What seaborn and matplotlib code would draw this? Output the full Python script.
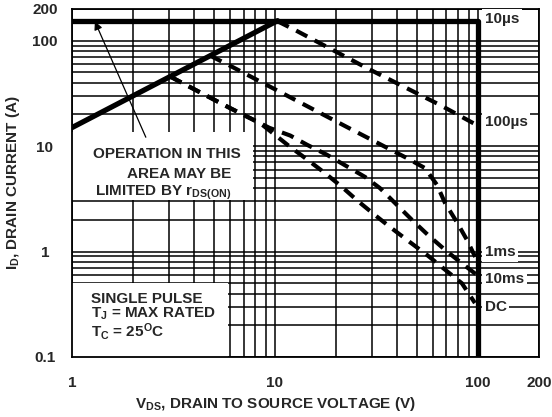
import numpy as np
import seaborn as sns
import matplotlib.pyplot as plt
import matplotlib.ticker as mticker
from matplotlib.patches import Rectangle

# rDS(on) limit and outer boundary (10us / max current / max voltage)
v_rds = [1, 10.3]
i_rds = [15, 155]
v_limit = [1, 100, 100]
i_limit = [155, 155, 0.1]

# pulse curves
v_100us = [10.3, 12.5, 28.4, 65, 94.5, 100]
i_100us = [153, 127, 55, 24.6, 16.6, 15.7]

v_1ms = [4.8, 5.9, 22.6, 44.7, 54.8, 62.8, 68.8, 78.8, 88.3, 97]
i_1ms = [72, 59, 15.2, 7.7, 6.2, 4.3, 2.9, 1.9, 1.29, 0.89]

v_10ms = [3.05, 3.8, 6.0, 9.4, 11.9, 14.4, 18.0, 22.1, 27.8, 32.9, 39.9, 47.3, 56.7, 68.8, 81.5, 98.9]
i_10ms = [45.7, 36.5, 23, 14.9, 12.6, 10.3, 8.3, 6.6, 5.1, 4.0, 2.77, 2.0, 1.44, 1.04, 0.80, 0.60]

v_dc = [3.05, 3.8, 6.0, 8.5, 11.6, 14.5, 17.6, 21.4, 25.6, 31.1, 36.9, 46.2, 56.1, 67.2, 83.4, 96.7]
i_dc = [45.7, 36.5, 23, 16.4, 10.2, 7.4, 5.57, 4.1, 3.02, 2.22, 1.71, 1.23, 0.93, 0.70, 0.50, 0.325]

curve_labels = ["10\u00b5s", "100\u00b5s", "1ms", "10ms", "DC"]
label_i = [160, 17, 0.99, 0.55, 0.30]

x_ticks = [1, 10, 100, 200]
x_ticklabels = ["1", "10", "100", "200"]
y_ticks = [0.1, 1, 10, 100, 200]
y_ticklabels = ["0.1", "1", "10", "100", "200"]

sns.set_style("white")
plt.rcParams["font.family"] = ["Liberation Sans", "DejaVu Sans"]
plt.rcParams["font.weight"] = "bold"
plt.rcParams["mathtext.fontset"] = "custom"
plt.rcParams["mathtext.bf"] = "Liberation Sans:bold"
plt.rcParams["mathtext.rm"] = "Liberation Sans:bold"
plt.rcParams["mathtext.it"] = "Liberation Sans:bold"
plt.rcParams["mathtext.default"] = "bf"

fig = plt.figure(figsize=(5.52, 4.17), dpi=100)
pos = [72 / 552, 1 - 357 / 417, 467 / 552, 348 / 417]
ax_bg = fig.add_axes(pos)   # grid only
ax = fig.add_axes(pos)      # data, ticks, labels

for a in (ax_bg, ax):
    a.set_xscale("log")
    a.set_yscale("log")
    a.set_xlim(1, 200)
    a.set_ylim(0.1, 200)
    a.set_xticks(x_ticks)
    a.set_yticks(y_ticks)
    a.xaxis.set_minor_locator(mticker.LogLocator(subs=np.arange(2, 10), numticks=20))
    a.yaxis.set_minor_locator(mticker.LogLocator(subs=np.arange(2, 10), numticks=20))
    a.xaxis.set_minor_formatter(mticker.NullFormatter())
    a.yaxis.set_minor_formatter(mticker.NullFormatter())

ax_bg.grid(True, which="both", color="black", lw=1.1)
ax_bg.tick_params(which="both", length=0, labelbottom=False, labelleft=False)
for s in ax_bg.spines.values():
    s.set_visible(False)

ax.set_facecolor("none")
ax.set_xticklabels(x_ticklabels)
ax.set_yticklabels(y_ticklabels)
ax.tick_params(which="both", direction="in", length=4, width=1, color="black")
ax.tick_params(axis="x", which="major", pad=14, labelsize=11)
ax.tick_params(axis="y", which="major", pad=19.5, labelsize=11)
for lbl in ax.get_yticklabels():
    lbl.set_ha("center")
for s in ax.spines.values():
    s.set_linewidth(1.3)
    s.set_color("black")

# white boxes over the grid for the notes
ax.add_patch(Rectangle((0, 0.451), 0.3876, 0.196, transform=ax.transAxes,
                       facecolor="white", edgecolor="none", zorder=1))
ax.add_patch(Rectangle((0, 0), 0.334, 0.2126, transform=ax.transAxes,
                       facecolor="white", edgecolor="none", zorder=1))

# boundaries
sns.lineplot(x=v_rds, y=i_rds, ax=ax, color="black", lw=3.8, sort=False, estimator=None)
sns.lineplot(x=v_limit, y=i_limit, ax=ax, color="black", lw=3.8, sort=False, estimator=None)

# pulse curves
for vv, ii in [(v_100us, i_100us), (v_1ms, i_1ms), (v_10ms, i_10ms), (v_dc, i_dc)]:
    sns.lineplot(x=vv, y=ii, ax=ax, color="black", lw=3, sort=False, estimator=None,
                 linestyle=(0, (3, 2)))

for txt, yy in zip(curve_labels, label_i):
    ax.text(108, yy, txt, fontsize=11, fontweight="bold", ha="left", va="center",
            bbox=dict(facecolor="white", edgecolor="none", pad=2), zorder=3)

# notes
ax.text(0.045, 0.572, "OPERATION IN THIS", transform=ax.transAxes, fontsize=11,
        fontweight="bold", va="baseline", zorder=3)
ax.text(0.118, 0.514, "AREA MAY BE", transform=ax.transAxes, fontsize=11,
        fontweight="bold", va="baseline", zorder=3)
ax.text(0.049, 0.4626, r"LIMITED BY r$_{DS(ON)}$", transform=ax.transAxes, fontsize=11,
        fontweight="bold", va="baseline", zorder=3)
ax.annotate("", xy=(1.28, 161), xytext=(2.34, 11.5),
            arrowprops=dict(arrowstyle="-|>", color="black", lw=0.9,
                            mutation_scale=12), zorder=3)

ax.text(0.041, 0.155, "SINGLE PULSE", transform=ax.transAxes, fontsize=11,
        fontweight="bold", va="baseline", zorder=3)
ax.text(0.041, 0.112, r"T$_J$ = MAX RATED", transform=ax.transAxes, fontsize=11,
        fontweight="bold", va="baseline", zorder=3)
ax.text(0.041, 0.0575, r"T$_C$ = 25$^O$C", transform=ax.transAxes, fontsize=11,
        fontweight="bold", va="baseline", zorder=3)

ax.set_xlabel(r"V$_{DS}$, DRAIN TO SOURCE VOLTAGE (V)", fontsize=11, fontweight="bold")
ax.set_ylabel(r"I$_D$, DRAIN CURRENT (A)", fontsize=11, fontweight="bold")
ax.xaxis.set_label_coords(0.435, -0.11)
ax.yaxis.set_label_coords(-0.108, 0.5)

fig.savefig("out.png", dpi=100)
